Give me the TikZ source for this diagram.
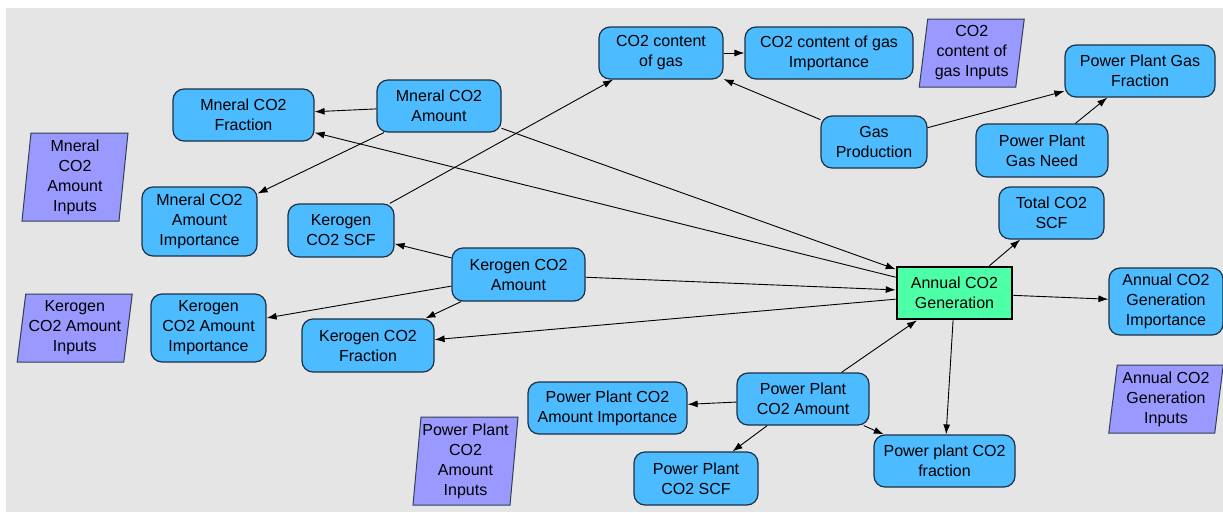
\documentclass[tikz,border=0pt]{standalone}
\usepackage{fontspec}
\setmainfont{Liberation Sans}
\usetikzlibrary{arrows.meta}
\definecolor{bgray}{RGB}{229,229,229}
\definecolor{nodeblue}{RGB}{77,187,255}
\definecolor{nodeborder}{RGB}{28,48,68}
\definecolor{gengreen}{RGB}{77,255,166}
\definecolor{inpurple}{RGB}{153,153,255}
\newcommand\pgram[7]{%
  \filldraw[pgramshape] ({#2-#4/2+#6/2},{#3-#5/2}) -- ({#2+#4/2+#6/2},{#3-#5/2})
     -- ({#2+#4/2-#6/2},{#3+#5/2}) -- ({#2-#4/2-#6/2},{#3+#5/2}) -- cycle;
  \node[pgramtext] (#1) at (#2,#3) {#7};}
\begin{document}
\begin{tikzpicture}[x=1pt,y=-1pt,
  txt/.style={align=center, inner sep=0pt, font=\fontsize{16}{20}\selectfont},
  box/.style={txt, draw=nodeborder, line width=1.2pt, fill=nodeblue, rounded corners=11pt},
  genbox/.style={txt, draw=black, line width=2.6pt, fill=gengreen},
  sz/.style 2 args={minimum width=#1pt, minimum height=#2pt},
  pgramshape/.style={fill=inpurple, draw=nodeborder!80!gray, line width=1pt},
  pgramtext/.style={txt},
  arr/.style={-{Latex[length=10pt,width=7pt]}, line width=0.9pt, draw=black}]
\useasboundingbox (0,0) rectangle (1223,512);
\fill[white] (0,0) rectangle (1223,512);
\fill[bgray] (6,8) rectangle (1223,512);

% input parallelograms
\pgram{mininp}{75}{177}{97}{88}{9}{Mneral\\CO2\\Amount\\Inputs}
\pgram{kerinp}{74.75}{328}{106.5}{68}{8.5}{Kerogen\\CO2 Amount\\Inputs}
\pgram{ppinp}{465.5}{461}{97}{88}{8}{Power Plant\\CO2\\Amount\\Inputs}
\pgram{gasinp}{971.75}{53}{96.5}{68}{8.5}{CO2\\content of\\gas Inputs}
\pgram{anninp}{1166}{399}{106}{68}{8.5}{Annual CO2\\Generation\\Inputs}

% variable nodes
\node[box, sz={141}{52}] (minfrac) at (243.5,115) {Mneral CO2\\Fraction};
\node[box, sz={124}{52}] (minamt) at (439,106) {Mneral CO2\\Amount};
\node[box, sz={115}{69}] (minimp) at (199.5,221.5) {Mneral CO2\\Amount\\Importance};
\node[box, sz={106}{53}] (kerscf) at (341,230.5) {Kerogen\\CO2 SCF};
\node[box, sz={124}{52}] (co2gas) at (661,53) {CO2 content\\of gas};
\node[box, sz={168}{52}] (co2gasimp) at (829,53) {CO2 content of gas\\Importance};
\node[box, sz={150}{52}] (ppgasfrac) at (1140,71) {Power Plant Gas\\Fraction};
\node[box, sz={106}{52}] (gasprod) at (874,142) {Gas\\Production};
\node[box, sz={132}{53}] (ppgasneed) at (1042,150.5) {Power Plant\\Gas Need};
\node[box, sz={105}{52}] (totscf) at (1051.5,213) {Total CO2\\SCF};
\node[genbox, sz={115}{52}] (ann) at (954.5,293) {Annual CO2\\Generation};
\node[box, sz={114}{67}] (annimp) at (1166,301.5) {Annual CO2\\Generation\\Importance};
\node[box, sz={141}{52}] (ppfrac) at (944.5,461) {Power plant CO2\\fraction};
\node[box, sz={132}{52}] (ppamt) at (803,399) {Power Plant\\CO2 Amount};
\node[box, sz={159}{52}] (ppamtimp) at (607.5,408) {Power Plant CO2\\Amount Importance};
\node[box, sz={124}{53}] (ppscf) at (696,478.5) {Power Plant\\CO2 SCF};
\node[box, sz={133}{53}] (keramt) at (518.5,274.5) {Kerogen CO2\\Amount};
\node[box, sz={132}{53}] (kerfrac) at (368,345.5) {Kerogen CO2\\Fraction};
\node[box, sz={115}{68}] (kerimp) at (208.5,328) {Kerogen\\CO2 Amount\\Importance};

% connectors
\draw[arr] (minamt) -- (minfrac);
\draw[arr] (minamt) -- (minimp);
\draw[arr] (minamt) -- (ann.158);
\draw[arr] (ann.165) -- (minfrac);
\draw[arr] (kerscf) -- (co2gas);
\draw[arr] (keramt) -- (kerscf);
\draw[arr] (keramt) -- (kerimp);
\draw[arr] (keramt) -- (kerfrac);
\draw[arr] (keramt) -- (ann.177);
\draw[arr] (ann.186) -- (kerfrac);
\draw[arr] (co2gas) -- (co2gasimp);
\draw[arr] (gasprod) -- (co2gas);
\draw[arr] (gasprod) -- (ppgasfrac);
\draw[arr] (ppgasneed) -- (ppgasfrac);
\draw[arr] (ann.38) -- (totscf);
\draw[arr] (ann) -- (annimp);
\draw[arr] (ann.267) -- (ppfrac);
\draw[arr] (ppamt) -- (ann.216);
\draw[arr] (ppamt) -- (ppamtimp);
\draw[arr] (ppamt) -- (ppscf);
\draw[arr] (ppamt) -- (ppfrac);
\end{tikzpicture}
\end{document}
